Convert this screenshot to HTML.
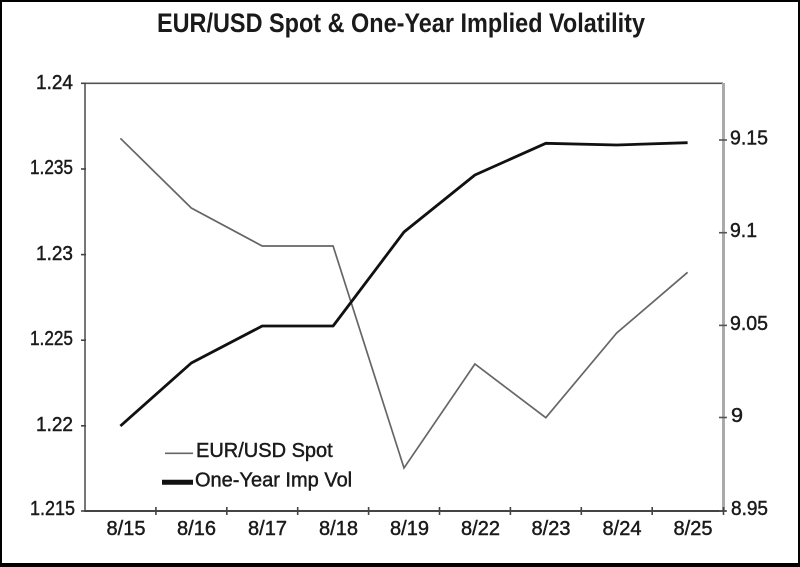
<!DOCTYPE html>
<html>
<head>
<meta charset="utf-8">
<style>
  html, body { margin: 0; padding: 0; background: #fff; }
  svg { display: block; }
  text { font-family: "Liberation Sans", "DejaVu Sans", sans-serif; fill: #1a1a1a; }
  .lab { stroke: #1a1a1a; stroke-width: 0.45; }
</style>
</head>
<body>
<svg width="800" height="567" viewBox="0 0 800 567" xmlns="http://www.w3.org/2000/svg">
  <!-- frame -->
  <rect x="0" y="0" width="800" height="567" fill="#000"/>
  <rect x="2" y="2" width="796" height="561" fill="#fff"/>

  <!-- title -->
  <text x="157" y="32" font-size="27" font-weight="bold" textLength="488" lengthAdjust="spacingAndGlyphs">EUR/USD Spot &amp; One-Year Implied Volatility</text>

  <!-- axes -->
  <line x1="85" y1="83.3" x2="723" y2="83.3" stroke="#555" stroke-width="1.6"/>
  <line x1="85" y1="83" x2="85" y2="512" stroke="#777" stroke-width="2"/>
  <line x1="723.5" y1="83" x2="723.5" y2="512" stroke="#aaa" stroke-width="3"/>
  <line x1="84" y1="511" x2="726" y2="511" stroke="#444" stroke-width="2"/>

  <!-- left ticks -->
  <g stroke="#444" stroke-width="1.6">
    <line x1="81" y1="83.3" x2="86" y2="83.3"/>
    <line x1="81" y1="169" x2="86" y2="169"/>
    <line x1="81" y1="254.6" x2="86" y2="254.6"/>
    <line x1="81" y1="340.2" x2="86" y2="340.2"/>
    <line x1="81" y1="425.8" x2="86" y2="425.8"/>
    <line x1="81" y1="511" x2="86" y2="511"/>
  </g>
  <!-- right ticks -->
  <g stroke="#555" stroke-width="1.6">
    <line x1="719" y1="140" x2="727" y2="140"/>
    <line x1="719" y1="232.7" x2="727" y2="232.7"/>
    <line x1="719" y1="325.4" x2="727" y2="325.4"/>
    <line x1="719" y1="417.5" x2="727" y2="417.5"/>
    <line x1="719" y1="511" x2="727" y2="511"/>
  </g>
  <!-- bottom ticks -->
  <g stroke="#444" stroke-width="1.6">
    <line x1="155.9" y1="507" x2="155.9" y2="515"/>
    <line x1="226.8" y1="507" x2="226.8" y2="515"/>
    <line x1="297.7" y1="507" x2="297.7" y2="515"/>
    <line x1="368.6" y1="507" x2="368.6" y2="515"/>
    <line x1="439.5" y1="507" x2="439.5" y2="515"/>
    <line x1="510.4" y1="507" x2="510.4" y2="515"/>
    <line x1="581.3" y1="507" x2="581.3" y2="515"/>
    <line x1="652.2" y1="507" x2="652.2" y2="515"/>
    <line x1="723.5" y1="507" x2="723.5" y2="515"/>
  </g>

  <!-- left labels -->
  <g font-size="20" text-anchor="end" class="lab">
    <text x="73" y="89" textLength="37" lengthAdjust="spacingAndGlyphs">1.24</text>
    <text x="73" y="174" textLength="43" lengthAdjust="spacingAndGlyphs">1.235</text>
    <text x="73" y="260" textLength="37" lengthAdjust="spacingAndGlyphs">1.23</text>
    <text x="73" y="345" textLength="43" lengthAdjust="spacingAndGlyphs">1.225</text>
    <text x="73" y="431" textLength="37" lengthAdjust="spacingAndGlyphs">1.22</text>
    <text x="75" y="515" textLength="45" lengthAdjust="spacingAndGlyphs">1.215</text>
  </g>
  <!-- right labels -->
  <g font-size="20" class="lab">
    <text x="730" y="144.5" textLength="38" lengthAdjust="spacingAndGlyphs">9.15</text>
    <text x="730" y="237" textLength="27" lengthAdjust="spacingAndGlyphs">9.1</text>
    <text x="730" y="330" textLength="38" lengthAdjust="spacingAndGlyphs">9.05</text>
    <text x="731" y="422" textLength="12" lengthAdjust="spacingAndGlyphs">9</text>
    <text x="731" y="515" textLength="37" lengthAdjust="spacingAndGlyphs">8.95</text>
  </g>
  <!-- x labels -->
  <g font-size="20" text-anchor="middle" class="lab">
    <text x="126" y="535">8/15</text>
    <text x="196.5" y="535">8/16</text>
    <text x="267.5" y="535">8/17</text>
    <text x="338.5" y="535">8/18</text>
    <text x="409.5" y="535">8/19</text>
    <text x="480.5" y="535">8/22</text>
    <text x="551" y="535">8/23</text>
    <text x="622" y="535">8/24</text>
    <text x="693" y="535">8/25</text>
  </g>

  <!-- EUR/USD spot series -->
  <polyline fill="none" stroke="#666" stroke-width="1.7" stroke-linejoin="miter"
    points="120.4,138.3 191.3,208 262.2,246 333.1,246 404,468 474.9,364 545.8,417.7 616.7,333 687.6,272.3"/>
  <!-- One-year implied vol series -->
  <polyline fill="none" stroke="#111" stroke-width="2.8" stroke-linejoin="round"
    points="120.4,426 191.3,363 262.2,326 333.1,326 404,232 474.9,175 545.8,143.3 616.7,145 687.6,142.7"/>

  <!-- legend -->
  <line x1="165" y1="453.3" x2="193" y2="453.3" stroke="#666" stroke-width="1.7"/>
  <text x="196" y="457" font-size="20" class="lab">EUR/USD Spot</text>
  <line x1="162" y1="482.3" x2="193" y2="482.3" stroke="#111" stroke-width="5"/>
  <text x="195" y="486.5" font-size="20" class="lab">One-Year Imp Vol</text>
</svg>
</body>
</html>
